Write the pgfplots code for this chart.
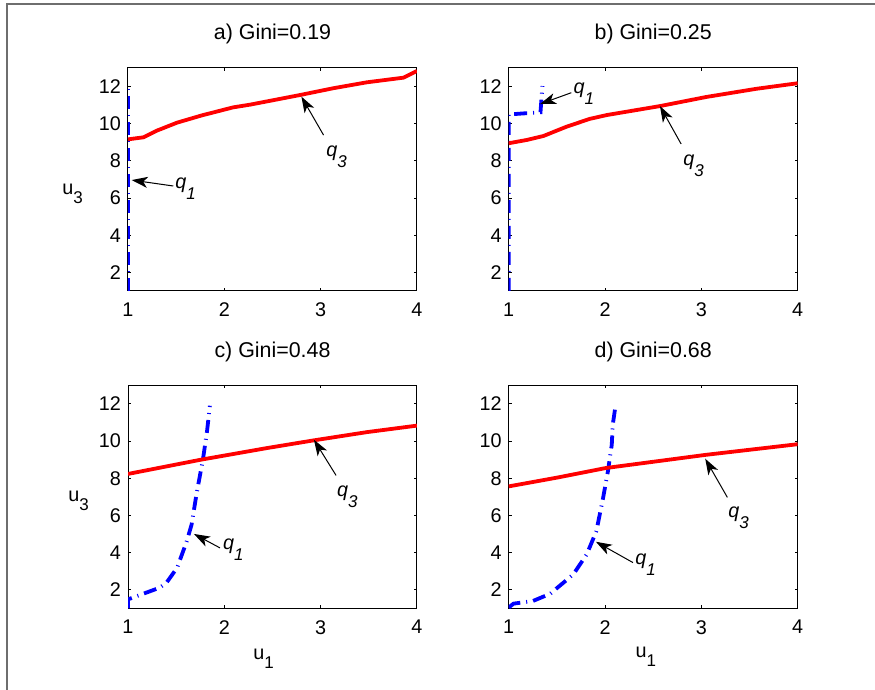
\documentclass[border=0pt]{standalone}
\usepackage{fontspec}
\setmainfont{Liberation Sans}
\usepackage{pgfplots}
\pgfplotsset{compat=1.18}
\usetikzlibrary{arrows.meta}
\definecolor{framegray}{RGB}{110,110,110}
\newcommand{\sub}[1]{\raisebox{-4.5pt}{\fontsize{8.5}{9}\selectfont #1}}
\newcommand{\ql}[1]{\textit{q}\raisebox{-5.5pt}{\fontsize{8.5}{9}\selectfont\itshape #1}}
\tikzset{
  ann/.style={-{Stealth[length=8pt,width=5.5pt,inset=2.2pt]}, line width=0.5pt, black},
  qlab/.style={anchor=base west, inner sep=0pt, font=\fontsize{9.9}{11}\selectfont},
}
\pgfplotsset{
  panel/.style={
    width=144.5pt, height=111.5pt, scale only axis,
    xmin=1, xmax=4, ymin=1, ymax=13,
    xtick={1,2,3,4}, ytick={2,4,6,8,10,12},
    tick align=inside, major tick length=1.5pt,
    axis line style={line width=0.5pt},
    every tick/.style={black, line width=0.5pt},
    /pgf/number format/assume math mode=true,
    tick label style={font=\fontsize{9.9}{11}\selectfont},
    xticklabel style={yshift=-2.5pt},
    title style={at={(0.5,1)}, anchor=base, yshift=8pt, inner sep=0pt, font=\fontsize{10.7}{12}\selectfont},
  },
  q3/.style={red, line width=1.9pt, line join=round},
  q1/.style={blue, line width=1.9pt, dash pattern=on 6.5pt off 3pt on 0.5pt off 3pt},
  ylab/.style={ylabel style={rotate=-90, at={(axis description cs:0,0.5)}, anchor=base west, inner sep=0pt, font=\fontsize{9.9}{11}\selectfont}},
  xlab/.style={xlabel style={at={(axis description cs:0,0)}, anchor=base west, inner sep=0pt, font=\fontsize{9.9}{11}\selectfont}},
}
\begin{document}
\begin{tikzpicture}
\useasboundingbox (0,0) rectangle (437.5pt,-345pt);
\draw[framegray, line width=1pt] (3.25pt,-345pt) -- (3.25pt,-2pt) -- (437.5pt,-2pt);

% a)
\begin{axis}[panel, at={(64pt,-34pt)}, anchor=north west,
  title={a) Gini=0.19}, ylab, ylabel={u\sub{3}},
  ylabel style={xshift=-33pt, yshift=-7.75pt}]
\addplot[q1] coordinates {(1,1) (1,12.03)};
\addplot[q3] coordinates {(1,9.16) (1.16,9.27) (1.30,9.63) (1.51,10.06) (1.78,10.47) (1.88,10.6) (2.09,10.88) (2.27,11.03) (2.79,11.55) (3.13,11.91) (3.48,12.23) (3.86,12.48) (4.0,12.84)};
\draw[ann] (axis cs:1.47,6.65) -- (axis cs:1.038,6.97);
\node[qlab] at (axis cs:1.488,6.54) {\ql{1}};
\draw[ann] (axis cs:3.03,9.39) -- (axis cs:2.80,11.46);
\node[qlab] at (axis cs:3.055,8.23) {\ql{3}};
\end{axis}

% b)
\begin{axis}[panel, at={(254.35pt,-34pt)}, anchor=north west,
  title={b) Gini=0.25}]
\addplot[q1] coordinates {(1,1) (1,10.5) (1.33,10.62) (1.35,12.03)};
\addplot[q3] coordinates {(1,8.95) (1.19,9.13) (1.36,9.34) (1.60,9.84) (1.84,10.26) (2.02,10.47) (2.57,10.95) (3.05,11.44) (3.57,11.88) (4.0,12.18)};
\draw[ann] (axis cs:1.65,11.67) -- (axis cs:1.325,11.06);
\node[qlab] at (axis cs:1.67,11.64) {\ql{1}};
\draw[ann] (axis cs:2.79,8.91) -- (axis cs:2.57,10.95);
\node[qlab] at (axis cs:2.81,7.78) {\ql{3}};
\end{axis}

% c)
\begin{axis}[panel, at={(64pt,-192.65pt)}, anchor=north west,
  title={c) Gini=0.48}, ylab, ylabel={u\sub{3}},
  ylabel style={xshift=-30pt, yshift=-2.25pt},
  xlab, xlabel={u\sub{1}}, xlabel style={xshift=62.5pt, yshift=-25.5pt}]
\addplot[q1] coordinates {(1,1) (1,1.48) (1.33,2.11) (1.40,2.38) (1.51,3.18) (1.61,4.61) (1.66,5.5) (1.71,7.11) (1.78,9.08) (1.82,10.51) (1.85,11.9)};
\addplot[q3] coordinates {(1,8.23) (1.75,8.99) (2.44,9.62) (2.92,10.03) (3.48,10.48) (4.0,10.83)};
\draw[ann] (axis cs:1.955,4.25) -- (axis cs:1.685,5.0);
\node[qlab] at (axis cs:1.983,4.16) {\ql{1}};
\draw[ann] (axis cs:3.16,8.15) -- (axis cs:2.93,10.07);
\node[qlab] at (axis cs:3.167,7.02) {\ql{3}};
\end{axis}

% d)
\begin{axis}[panel, at={(254.35pt,-192.65pt)}, anchor=north west,
  title={d) Gini=0.68},
  xlab, xlabel={u\sub{1}}, xlabel style={xshift=63.2pt, yshift=-24.5pt}]
\addplot[q1] coordinates {(1,1.04) (1.05,1.25) (1.25,1.39) (1.43,1.78) (1.67,2.82) (1.81,3.9) (1.91,5.15) (1.98,6.94) (2.03,8.37) (2.07,9.8) (2.08,10.87) (2.11,11.94)};
\addplot[q3] coordinates {(1,7.56) (1.5,8.03) (2.01,8.55) (3.05,9.26) (4.0,9.83)};
\draw[ann] (axis cs:2.29,3.46) -- (axis cs:1.905,4.58);
\node[qlab] at (axis cs:2.31,3.36) {\ql{1}};
\draw[ann] (axis cs:3.27,6.97) -- (axis cs:3.04,9.05);
\node[qlab] at (axis cs:3.276,5.86) {\ql{3}};
\end{axis}
\end{tikzpicture}
\end{document}
